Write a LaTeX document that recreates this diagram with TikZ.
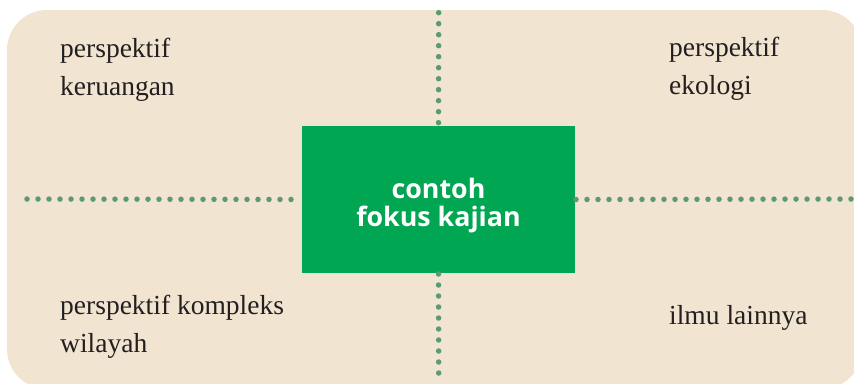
\documentclass[tikz,border=0pt]{standalone}
\usepackage{fontspec}
\setmainfont{Liberation Serif}
\newfontfamily\fkfont{Open Sans}
\usepackage{tikz}
\usetikzlibrary{positioning}
\definecolor{mBeige}{HTML}{F1E4D0}
\definecolor{mGreen}{HTML}{00A651}
\definecolor{mDot}{HTML}{5B9A72}
\definecolor{mText}{HTML}{231F20}
\begin{document}
\begin{tikzpicture}[x=1pt, y=-1pt,
      fk/.style={fill=mGreen, minimum width=273pt, minimum height=147pt, inner sep=0pt,
        text=white, align=center, font=\fkfont\bfseries\fontsize{26.8}{28}\selectfont},
      lbl/.style={anchor=base west, inner sep=0pt, text=mText, align=left,
        font=\fontsize{27.5}{38}\selectfont},
      dots/.style={mDot, line width=5.5pt, line cap=round, dash pattern=on 0pt off 11pt}]
    \useasboundingbox (0,0) rectangle (854,383);
    \begin{scope}
      \clip (0,0) rectangle (854,383);
      \fill[mBeige, rounded corners=40pt] (7,10) rectangle (862,389);
    \end{scope}
    % centre and the ends of the dotted lines
    \node[fk] (focus) at (438.5,199.5) {\rule{0pt}{33pt}contoh\\fokus kajian};
    \coordinate (top) at (438.7,12.7);
    \coordinate (bot) at (438.7,373);
    \coordinate (lft) at (27,199);
    \coordinate (rgt) at (851,199);
    \draw[dots] (top) -- (focus.north);
    \draw[dots] (bot) -- (focus.south);
    \draw[dots] (lft) -- (focus.west);
    \draw[dots] (rgt) -- (focus.east);
    % the four fields (base = last line)
    \node[lbl] (spatial) at (60,95)   {perspektif\\keruangan};
    \node[lbl] (ecology) at (669,94)  {perspektif\\ekologi};
    \node[lbl] (region)  at (60,352)  {perspektif kompleks\\wilayah};
    \node[lbl] (other)   at (669,324) {ilmu lainnya};
\end{tikzpicture}
\end{document}
